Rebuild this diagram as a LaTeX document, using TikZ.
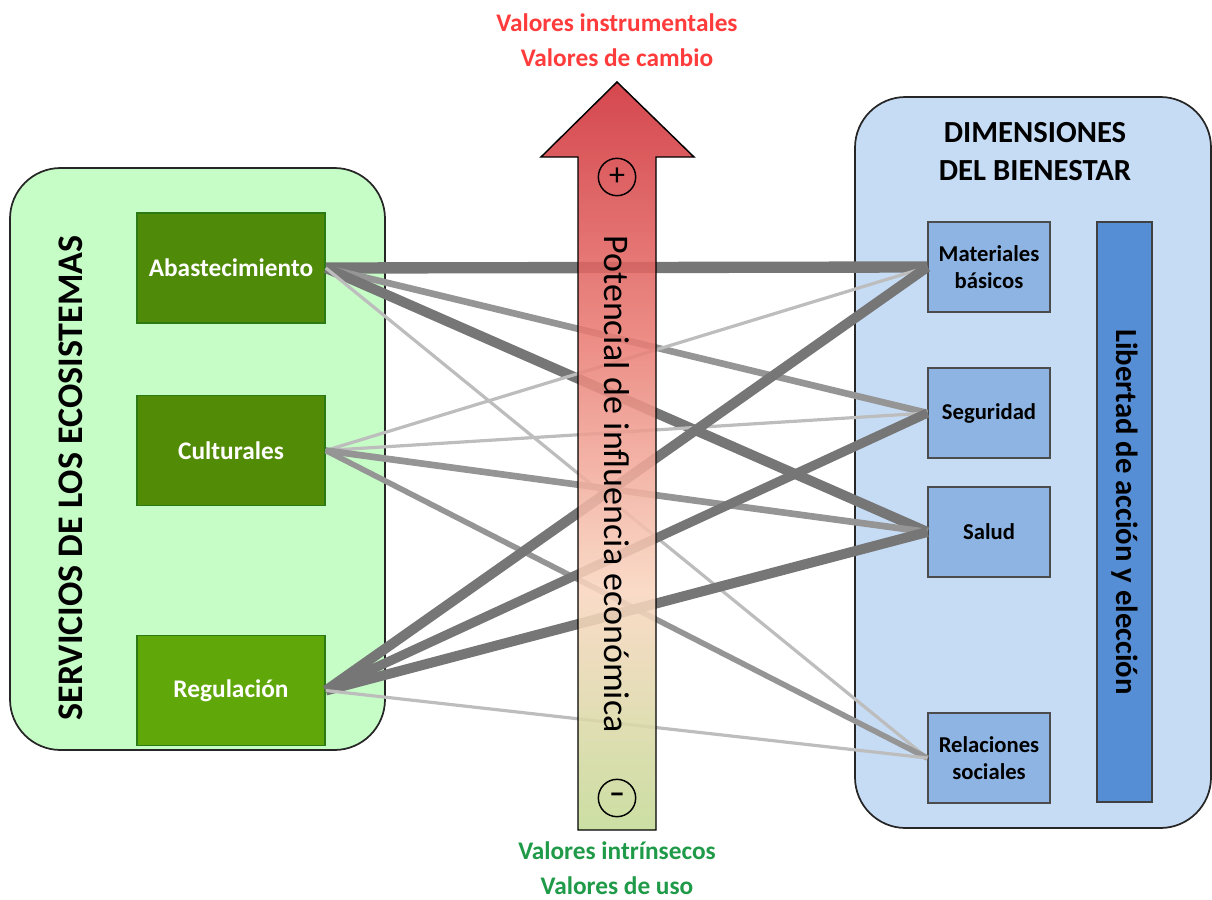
\documentclass[tikz,border=0pt]{standalone}
\usepackage{fontspec}
\setmainfont{Carlito}

\definecolor{svcpanel}{HTML}{C6FCC6}
\definecolor{dimpanel}{HTML}{C6DCF5}
\definecolor{abastfill}{HTML}{4F8A08}
\definecolor{cultfill}{HTML}{528B06}
\definecolor{regulfill}{HTML}{60A80A}
\definecolor{svcline}{HTML}{2C7A14}
\definecolor{dimfill}{HTML}{8EB4E3}
\definecolor{freefill}{HTML}{558ED5}
\definecolor{lkdark}{HTML}{767676}
\definecolor{lkmid}{HTML}{959595}
\definecolor{lklight}{HTML}{BDBDBD}
\definecolor{valred}{HTML}{FF3B3B}
\definecolor{valgreen}{HTML}{1F9A48}
\definecolor{arrred}{HTML}{CF2E36}
\definecolor{arrpink}{HTML}{E97C74}
\definecolor{arrpeach}{HTML}{F9D6C0}
\definecolor{arrgreen}{HTML}{C4DB96}

\pgfdeclareverticalshading{potencial}{100bp}{color(0bp)=(arrgreen); color(25bp)=(arrgreen);
  color(41bp)=(arrpeach); color(58bp)=(arrpink); color(75bp)=(arrred); color(100bp)=(arrred)}

\tikzset{
  panel/.style={draw=black!85, line width=1.3pt, rounded corners=38pt},
  svcbox/.style={draw=svcline, line width=1.2pt, minimum width=141pt, minimum height=82.5pt,
    text=white, font=\fontsize{19}{22}\bfseries\selectfont},
  dimbox/.style={draw=black!70, line width=0.9pt, fill=dimfill, minimum width=91.5pt,
    minimum height=67.5pt, align=center, font=\fontsize{17}{20}\bfseries\selectfont},
  valtext/.style={align=center, font=\fontsize{19}{26}\bfseries\selectfont},
  signmark/.style={circle, draw, line width=1.1pt, minimum size=28pt, inner sep=0pt,
    font=\fontsize{24}{24}\selectfont},
}

\begin{document}
\begin{tikzpicture}[x=0.75pt,y=-0.75pt,line width=0.75pt]

  \useasboundingbox (0,0) rectangle (1212,899);

  % --- the two panels ---
  \draw[panel, fill=svcpanel] (10,168) rectangle (385,750);
  \draw[panel, fill=dimpanel] (855,97) rectangle (1211,828);

  % --- panel titles ---
  \node[rotate=90, font=\fontsize{27}{30}\bfseries\selectfont] (svctitle) at (71,478)
    {SERVICIOS DE LOS ECOSISTEMAS};
  \node[align=center, font=\fontsize{23}{28.5}\bfseries\selectfont] (dimtitle) at (1035,152)
    {DIMENSIONES\\DEL BIENESTAR};

  % --- ecosystem services ---
  \foreach \name/\y/\fillc/\txt in {abast/268/abastfill/Abastecimiento,
                                    cult/450.5/cultfill/Culturales,
                                    regul/690.5/regulfill/Regulación}
    \node[svcbox, fill=\fillc] (\name) at (231,\y) {\txt};

  % --- well-being dimensions ---
  \foreach \name/\y/\txt in {mat/267/Materiales\\básicos,
                             seg/413/Seguridad,
                             salud/532/Salud,
                             rel/758/Relaciones\\sociales}
    \node[dimbox] (\name) at (989,\y) {\txt};

  \node[draw=black!75, line width=0.9pt, fill=freefill, rotate=-90, minimum width=435pt,
    minimum height=41.25pt, font=\fontsize{23}{26}\bfseries\selectfont] (libertad) at (1124.5,512)
    {Libertad de acción y elección};

  % --- links: service -> dimension (width = strength) ---
  \foreach \a/\b/\w/\c in {abast/mat/8.5/lkdark, abast/seg/5/lkmid,
                           abast/salud/7.5/lkdark, abast/rel/2.4/lklight,
                           cult/mat/2.4/lklight, cult/seg/2.4/lklight,
                           cult/salud/5/lkmid, cult/rel/4.2/lkmid,
                           regul/mat/7.5/lkdark, regul/seg/7/lkdark,
                           regul/salud/7.5/lkdark, regul/rel/2.4/lklight}
    \draw[line width=\w pt, draw=\c] (\a.east) -- (\b.west);

  % --- arrow of economic influence (semi-transparent, over the links) ---
  \shadedraw[shading=potencial, fill opacity=0.88, line width=1.1pt]
    (578,830) -- (578,157) -- (541,157) -- (617,82) -- (694,157)
    -- (656,157) -- (656,830) -- cycle;
  \node[rotate=-90, font=\fontsize{27}{30}\selectfont] (potencial) at (617,484)
    {Potencial de influencia económica};
  \node[signmark] (plus) at (617,177) {+};
  \node[signmark] (minus) at (617,798) {\textbf{–}};

  % --- kinds of values ---
  \node[valtext, text=valred] (cambio) at (617,40) {Valores instrumentales\\Valores de cambio};
  \node[valtext, text=valgreen] (uso) at (617,868) {Valores intrínsecos\\Valores de uso};

\end{tikzpicture}
\end{document}
